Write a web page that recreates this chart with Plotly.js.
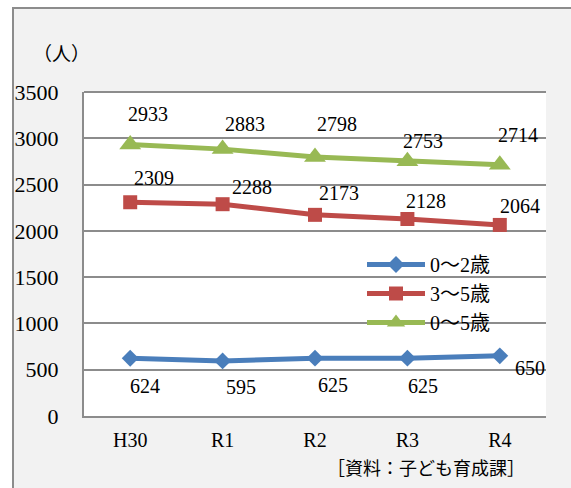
<!DOCTYPE html>
<html>
<head>
<meta charset="utf-8">
<script src="https://cdn.plot.ly/plotly-3.0.1.min.js"></script>
<style>
  html, body { margin:0; padding:0; width:571px; height:488px; overflow:hidden; background:#ffffff; }
  #frame { position:absolute; left:12px; top:7px; width:600px; height:520px; border-left:2px solid #8c8c8c; border-top:2px solid #8c8c8c; background:#f2f2f2; }
  #chart { position:absolute; left:0; top:0; width:571px; height:488px; }
</style>
</head>
<body>
<div id="frame"></div>
<div id="chart"></div>
<script>
const categories = ["H30", "R1", "R2", "R3", "R4"];
const seriesNames = ["0～2歳", "3～5歳", "0～5歳"];
const age0to2 = [624, 595, 625, 625, 650];
const age3to5 = [2309, 2288, 2173, 2128, 2064];
const age0to5 = [2933, 2883, 2798, 2753, 2714];
const yTicks = [0, 500, 1000, 1500, 2000, 2500, 3000, 3500];

// label pixel offsets (style only)
const offsGreen = [[18,-30],[22,-25],[22,-33],[16,-20],[18,-30]];
const offsRed   = [[24,-24],[29,-17],[24,-22],[19,-18],[20,-19]];
const offsBlue  = [[15,28],[18,26],[18,27],[16,28],[30,12]];

const numFont = "Liberation Serif, 'Noto Sans CJK JP', serif";
const cjkFont = "'Noto Sans CJK JP', sans-serif";
const colors = ["#4a7ebb", "#be4b48", "#98b954"];

const traces = [
  {x: categories, y: age0to2, name: seriesNames[0], type: "scatter", mode: "lines+markers",
   line: {color: colors[0], width: 5}, marker: {symbol: "diamond", size: 13, color: colors[0]}},
  {x: categories, y: age3to5, name: seriesNames[1], type: "scatter", mode: "lines+markers",
   line: {color: colors[1], width: 5}, marker: {symbol: "square", size: 14, color: colors[1]}},
  {x: categories, y: age0to5, name: seriesNames[2], type: "scatter", mode: "lines+markers",
   line: {color: colors[2], width: 5}, marker: {symbol: "triangle-up", size: 19, color: colors[2]}}
];

const annotations = [];
function addLabels(vals, offs) {
  vals.forEach((v, i) => {
    annotations.push({x: categories[i], y: v, xref: "x", yref: "y", text: String(v), showarrow: false,
      xshift: offs[i][0], yshift: -offs[i][1], font: {family: numFont, size: 20, color: "#000"}});
  });
}
addLabels(age0to5, offsGreen);
addLabels(age3to5, offsRed);
addLabels(age0to2, offsBlue);

annotations.push({xref: "paper", yref: "paper", x: (61-84)/462, y: (416-53)/324, text: "（人）",
  showarrow: false, xanchor: "center", yanchor: "middle", font: {family: cjkFont, size: 19, color: "#000"}});
annotations.push({xref: "paper", yref: "paper", x: (426-84)/462, y: (416-467)/324, text: "［資料：子ども育成課］",
  showarrow: false, xanchor: "center", yanchor: "middle", font: {family: cjkFont, size: 18, color: "#000"}});

const layout = {
  width: 571, height: 488,
  margin: {l: 84, r: 25, t: 92, b: 72, pad: 0},
  paper_bgcolor: "rgba(0,0,0,0)",
  plot_bgcolor: "#ffffff",
  showlegend: true,
  legend: {x: (362-84)/462, y: (416-245)/324, xanchor: "left", yanchor: "top",
    bgcolor: "rgba(0,0,0,0)", font: {family: numFont, size: 20, color: "#000"},
    itemwidth: 58, tracegroupgap: 0},
  xaxis: {type: "category", range: [-0.5, 4.5], showgrid: false, showline: true, linecolor: "#8c8c8c", linewidth: 2,
    ticks: "", tickfont: {family: numFont, size: 20, color: "#000"}, ticklabelstandoff: 5, fixedrange: true},
  yaxis: {range: [0, 3500], tickvals: yTicks, ticktext: yTicks.map(String), showgrid: true, gridcolor: "#8c8c8c", gridwidth: 2,
    showline: true, linecolor: "#8c8c8c", linewidth: 2, zeroline: false, ticks: "",
    tickfont: {family: numFont, size: 22, color: "#000"}, ticklabelstandoff: 19, fixedrange: true},
  shapes: [
    {type: "rect", xref: "paper", yref: "paper", x0: (322-84)/462, x1: 1, y0: (416-345)/324, y1: (416-240)/324,
     fillcolor: "#ffffff", line: {width: 0}, layer: "between"},
    {type: "line", xref: "paper", yref: "paper", x0: 0, x1: 1, y0: 1, y1: 1, line: {color: "#8c8c8c", width: 2}, layer: "below"}
  ],
  annotations: annotations
};

Plotly.newPlot("chart", traces, layout, {displayModeBar: false, staticPlot: true});
</script>
</body>
</html>
